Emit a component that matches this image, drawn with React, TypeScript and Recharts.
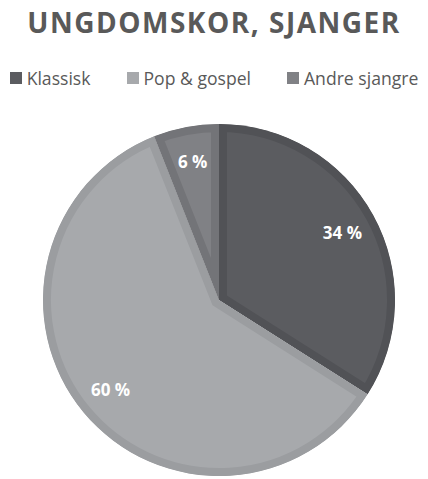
import React from 'react';
import { PieChart, Pie, Cell, Legend, Sector } from 'recharts';

const categories = ['Klassisk', 'Pop & gospel', 'Andre sjangre'];
const values = [34, 60, 6];
const labels = ['34 %', '60 %', '6 %'];
const fills = ['#5b5c60', '#a7a9ac', '#808185'];
const borders = ['#515256', '#9b9da0', '#737478'];

const data = categories.map((name, i) => ({ name, value: values[i], label: labels[i] }));

const RAD = Math.PI / 180;

const renderLabel = (p: any) => {
  const r = p.outerRadius * 0.8;
  const x = p.cx + r * Math.cos(-p.midAngle * RAD);
  const y = p.cy + r * Math.sin(-p.midAngle * RAD);
  return (
    <text x={x} y={y} fill="#ffffff" textAnchor="middle" dominantBaseline="central"
      style={{ fontFamily: 'Open Sans', fontWeight: 700, fontSize: 17 }}>
      {p.payload?.label ?? p.label}
    </text>
  );
};

const renderShape = (p: any) => {
  const id = `clip-sector-${p.index ?? Math.round(p.startAngle)}`;
  return (
    <g>
      <defs>
        <clipPath id={id}>
          <Sector cx={p.cx} cy={p.cy} innerRadius={p.innerRadius} outerRadius={p.outerRadius}
            startAngle={p.startAngle} endAngle={p.endAngle} />
        </clipPath>
      </defs>
      <Sector cx={p.cx} cy={p.cy} innerRadius={p.innerRadius} outerRadius={p.outerRadius}
        startAngle={p.startAngle} endAngle={p.endAngle} fill={p.fill}
        stroke={p.stroke} strokeWidth={16} clipPath={`url(#${id})`} />
    </g>
  );
};

const renderLegend = () => (
  <div style={{ display: 'flex', justifyContent: 'center', gap: 36, fontFamily: 'Open Sans', fontSize: 17.6, color: '#595959' }}>
    {data.map((d, i) => (
      <div key={d.name} style={{ display: 'flex', alignItems: 'center' }}>
        <span style={{ display: 'inline-block', width: 12, height: 12, background: fills[i], marginRight: 5 }} />
        <span>{d.name}</span>
      </div>
    ))}
  </div>
);

export default function App() {
  return (
    <div style={{ position: 'absolute', left: 0, top: 0, width: 428, height: 479, background: '#fff' }}>
      <div style={{ position: 'absolute', left: 0, top: 0, width: 428, textAlign: 'center', fontFamily: 'Open Sans', fontWeight: 700, fontSize: 28, color: '#595959', lineHeight: '44px', letterSpacing: 1.5 }}>
        UNGDOMSKOR, SJANGER
      </div>
      <PieChart width={428} height={479}>
        <Legend verticalAlign="top" content={renderLegend} wrapperStyle={{ top: 66, left: 0, width: 428 }} />
        <Pie data={data} dataKey="value" nameKey="name" cx={214} cy={271} outerRadius={176}
          startAngle={90} endAngle={-270} isAnimationActive={false} labelLine={false}
          label={renderLabel} shape={renderShape}>
          {data.map((d, i) => (
            <Cell key={d.name} fill={fills[i]} stroke={borders[i]} />
          ))}
        </Pie>
      </PieChart>
    </div>
  );
}
